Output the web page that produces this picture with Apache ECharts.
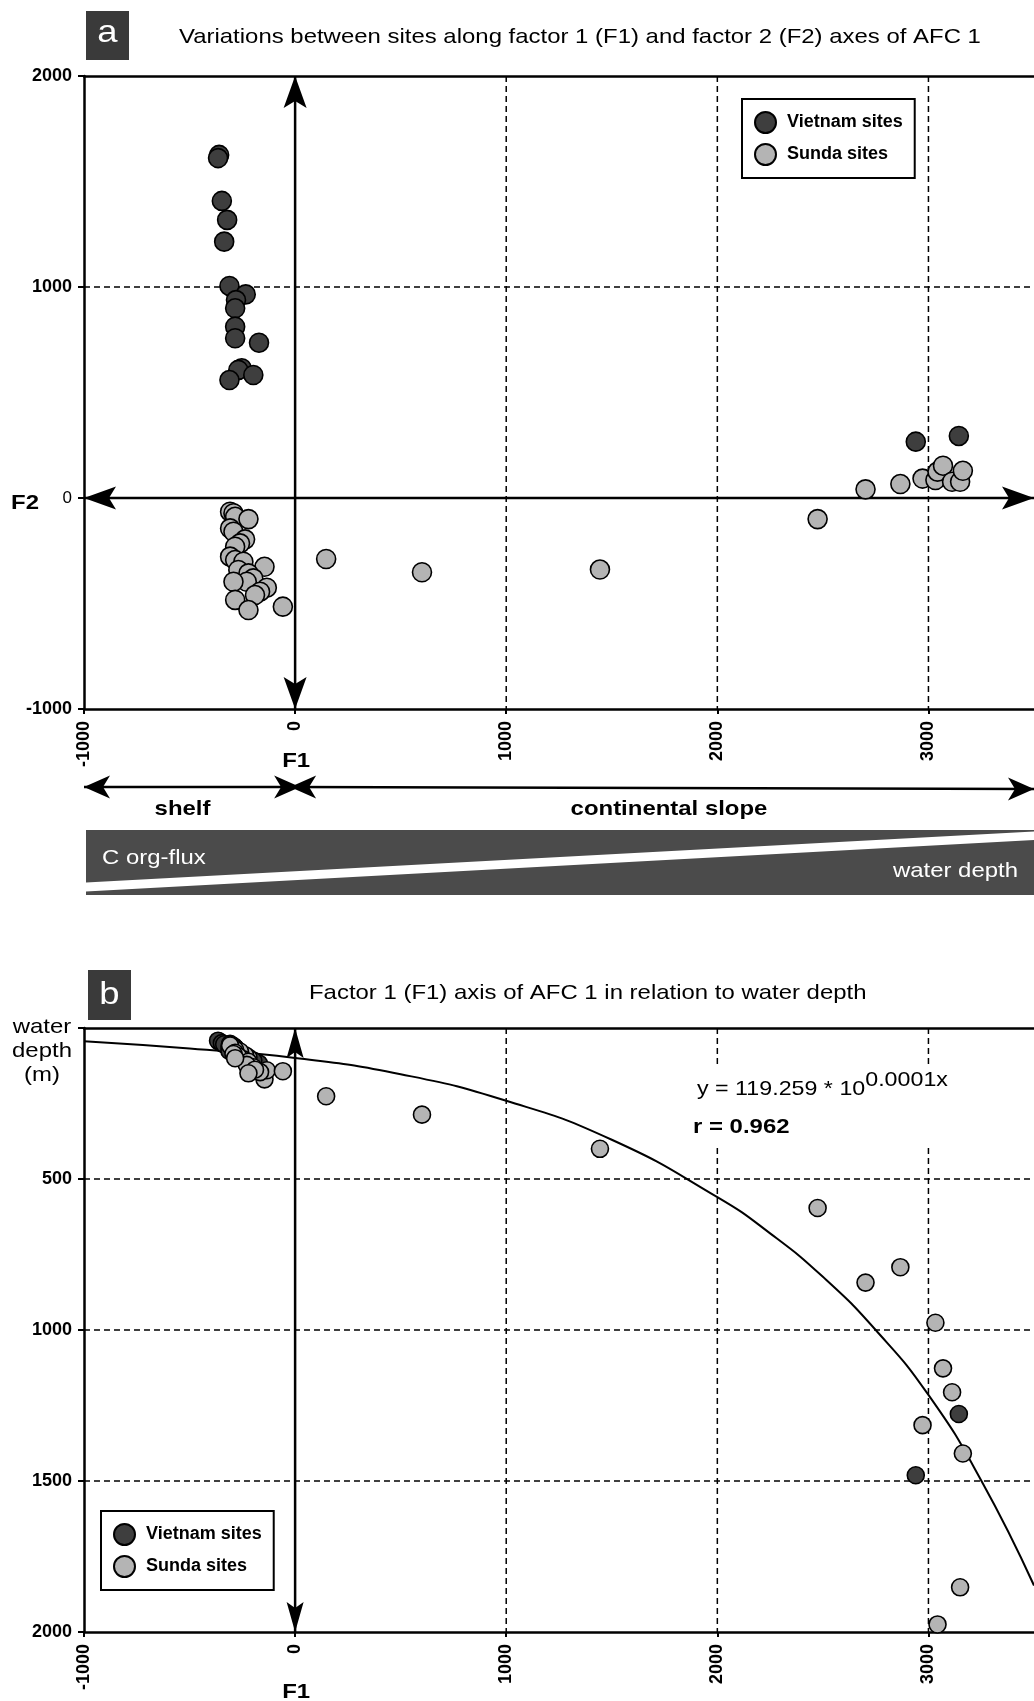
<!DOCTYPE html>
<html>
<head>
<meta charset="utf-8">
<script src="https://cdn.jsdelivr.net/npm/echarts@6/dist/echarts.min.js"></script>
<style>
  html, body { margin: 0; padding: 0; background: #fff; }
  #main { width: 1034px; height: 1701px; }
</style>
</head>
<body>
<div id="main"></div>
<script>
// AFC 1 site scores: factor 1 (F1), factor 2 (F2) and water depth (m) of each site
const vietnamF1    = [-360, -365, -347, -322, -336, -311, -234, -280, -284, -284, -284, -171, -253, -269, -198, -311, 2940, 3144];
const vietnamF2    = [1626, 1611, 1408, 1318, 1215, 1005, 965, 938, 899, 812, 757, 736, 615, 607, 583, 559, 267, 294];
const vietnamDepth = [45, 42, 50, 58, 54, 62, 96, 74, 70, 80, 66, 118, 88, 84, 108, 76, 1481, 1278];

const sundaF1    = [-308, -292, -284, -221, -308, -292, -237, -261, -284, -308, -284, -245, -145, -269, -221, -198, -229, -292, -134, -166, -190, -284, -221, -58, 147, 601, 1444, 2475, 2702, 2867, 2972, 3033, 3043, 3069, 3112, 3150, 3163];
const sundaF2    = [-65, -72, -89, -100, -144, -160, -196, -215, -231, -278, -294, -302, -326, -341, -357, -381, -397, -397, -425, -444, -460, -483, -531, -515, -289, -352, -339, -100, 41, 66, 92, 85, 125, 153, 77, 77, 129];
const sundaDepth = [52, 60, 66, 98, 56, 64, 90, 78, 72, 58, 82, 104, 170, 94, 112, 130, 122, 86, 140, 146, 138, 100, 150, 143, 226, 287, 400, 596, 843, 792, 1315, 976, 1975, 1127, 1206, 1852, 1409];

// Exponential regression of water depth on F1, sampled along the fitted curve
const fitF1    = [-1000, -500, 0, 500, 1000, 1500, 2000, 2250, 2500, 2750, 3000, 3250, 3500];
const fitDepth = [44, 68, 99, 153, 241, 370, 560, 680, 824, 1000, 1215, 1498, 1846];

// Axis extents and reference lines
const f1Range = [-1000, 3500];
const f2Range = [-1000, 2000];
const depthRange = [0, 2000];
const f1GridLines = [1000, 2000, 3000];
const f2GridLines = [1000];
const depthGridLines = [500, 1000, 1500];

const seriesNames = ['Vietnam sites', 'Sunda sites'];
const equationMain = 'y = 119.259 * 10';
const equationExp = '0.0001x';
const correlation = 'r = 0.962';

const FONT = '"Liberation Sans", Arial, Helvetica, sans-serif';
const INK = '#000';
const DARK = '#3e3e3e';
const LIGHT = '#b4b4b4';
const PANEL_TAG = '#3a3a3a';
const BAND = '#4b4b4b';
const TXT_SCALE = 1.14;

const pairs = (xs, ys) => xs.map((x, i) => [x, ys[i]]);

function headPoints(tip, from, L, W, notch) {
  const dx = tip[0] - from[0], dy = tip[1] - from[1];
  const len = Math.hypot(dx, dy) || 1;
  const ux = dx / len, uy = dy / len, nx = -uy, ny = ux;
  const bx = tip[0] - ux * L, by = tip[1] - uy * L;
  return [
    [tip[0], tip[1]],
    [bx + nx * W, by + ny * W],
    [tip[0] - ux * (L - notch), tip[1] - uy * (L - notch)],
    [bx - nx * W, by - ny * W]
  ];
}

function doubleArrow(a, b, L, W, notch, width) {
  return [
    { type: 'line', shape: { x1: a[0], y1: a[1], x2: b[0], y2: b[1] }, style: { stroke: INK, lineWidth: width } },
    { type: 'polygon', shape: { points: headPoints(a, b, L, W, notch) }, style: { fill: INK } },
    { type: 'polygon', shape: { points: headPoints(b, a, L, W, notch) }, style: { fill: INK } }
  ];
}

function arrowRenderer(L, W, notch) {
  return function (params, api) {
    const a = api.coord([api.value(0), api.value(1)]);
    const b = api.coord([api.value(2), api.value(3)]);
    return { type: 'group', children: doubleArrow(a, b, L, W, notch, 2.5) };
  };
}

function renderGridLine(params, api) {
  const cs = params.coordSys;
  const v = api.value(0);
  let shape;
  if (api.value(1) === 1) {
    const y = api.coord([0, v])[1];
    shape = { x1: cs.x, y1: y, x2: cs.x + cs.width, y2: y };
  } else {
    const x = api.coord([v, 0])[0];
    shape = { x1: x, y1: cs.y, x2: x, y2: cs.y + cs.height };
  }
  return { type: 'line', shape, style: { stroke: INK, lineWidth: 1.5, lineDash: [6, 4] } };
}

const axisLineStyle = { color: INK, width: 2.5 };

function f1Axis(gridIndex) {
  return {
    type: 'value', gridIndex, position: 'bottom',
    min: f1Range[0], max: f1Range[1], interval: 1000,
    axisLine: { show: true, onZero: false, lineStyle: axisLineStyle },
    axisTick: { show: true, length: 5, lineStyle: { color: INK, width: 2 } },
    axisLabel: {
      show: true, rotate: 90, margin: 12, color: INK, fontFamily: FONT, fontWeight: 'bold', fontSize: 18,
      showMaxLabel: false, formatter: v => String(v)
    },
    splitLine: { show: false }
  };
}

function frameTop(gridIndex) {
  return {
    type: 'value', gridIndex, position: 'top',
    min: f1Range[0], max: f1Range[1],
    axisLine: { show: true, onZero: false, lineStyle: axisLineStyle },
    axisTick: { show: false }, axisLabel: { show: false }, splitLine: { show: false }
  };
}

const tickBold = { fontFamily: FONT, fontWeight: 'bold', fontSize: 18, color: INK };

const legendBase = {
  data: seriesNames, orient: 'vertical',
  padding: [12, 12, 12, 12], itemGap: 9, itemWidth: 21, itemHeight: 21,
  backgroundColor: '#fff', borderColor: INK, borderWidth: 2, borderRadius: 0,
  selectedMode: false,
  textStyle: { fontFamily: FONT, fontWeight: 'bold', fontSize: 18, color: INK, padding: [0, 0, 0, 6] }
};

function sitesSeries(name, data, xi, yi, color, size) {
  return {
    type: 'scatter', name, xAxisIndex: xi, yAxisIndex: yi, data,
    symbol: 'circle', symbolSize: size,
    itemStyle: { color, borderColor: INK, borderWidth: 1.6, opacity: 1 },
    emphasis: { disabled: true }, z: 5
  };
}

const option = {
  animation: false,
  backgroundColor: '#fff',
  grid: [
    { left: 84, top: 76, width: 950, height: 633 },
    { left: 84, top: 1028, width: 950, height: 604 }
  ],
  xAxis: [f1Axis(0), f1Axis(1), frameTop(0), frameTop(1)],
  yAxis: [
    {
      type: 'value', gridIndex: 0, min: f2Range[0], max: f2Range[1], interval: 1000,
      axisLine: { show: true, onZero: false, lineStyle: axisLineStyle },
      axisTick: { show: true, length: 6, lineStyle: { color: INK, width: 2 } },
      axisLabel: {
        margin: 12,
        formatter: v => (v === 0 ? '{n|0}' : '{b|' + v + '}'),
        rich: { b: tickBold, n: { fontFamily: FONT, fontSize: 17, color: INK } }
      },
      splitLine: { show: false }
    },
    {
      type: 'value', gridIndex: 1, inverse: true, min: depthRange[0], max: depthRange[1], interval: 500,
      axisLine: { show: true, onZero: false, lineStyle: axisLineStyle },
      axisTick: { show: true, length: 6, lineStyle: { color: INK, width: 2 } },
      axisLabel: Object.assign({ margin: 12, formatter: v => (v === 0 ? '' : String(v)) }, tickBold),
      splitLine: { show: false }
    }
  ],
  legend: [
    Object.assign({ left: 742, top: 99 }, legendBase),
    Object.assign({ left: 101, top: 1511 }, legendBase)
  ],
  series: [
    {
      type: 'custom', name: 'grid-a', xAxisIndex: 0, yAxisIndex: 0, silent: true, z: 1,
      data: f1GridLines.map(v => [v, 0]).concat(f2GridLines.map(v => [v, 1])),
      renderItem: renderGridLine
    },
    {
      type: 'custom', name: 'grid-b', xAxisIndex: 1, yAxisIndex: 1, silent: true, z: 1,
      data: f1GridLines.map(v => [v, 0]).concat(depthGridLines.map(v => [v, 1])),
      renderItem: renderGridLine
    },
    {
      type: 'custom', name: 'axes-a', xAxisIndex: 0, yAxisIndex: 0, silent: true, z: 3, clip: false,
      encode: { x: [0, 2], y: [1, 3] },
      data: [[0, f2Range[0], 0, f2Range[1]], [f1Range[0], 0, f1Range[1], 0]],
      renderItem: arrowRenderer(32, 11.5, 7)
    },
    {
      type: 'custom', name: 'axes-b', xAxisIndex: 1, yAxisIndex: 1, silent: true, z: 3, clip: false,
      encode: { x: [0, 2], y: [1, 3] },
      data: [[0, depthRange[1], 0, depthRange[0]]],
      renderItem: arrowRenderer(30, 8.5, 6)
    },
    {
      type: 'line', name: 'fit', xAxisIndex: 1, yAxisIndex: 1, silent: true, z: 2,
      data: pairs(fitF1, fitDepth), smooth: 0.5,
      symbol: 'none', showSymbol: false, lineStyle: { color: INK, width: 2 }
    },
    sitesSeries(seriesNames[0], pairs(vietnamF1, vietnamF2), 0, 0, DARK, 19),
    sitesSeries(seriesNames[1], pairs(sundaF1, sundaF2), 0, 0, LIGHT, 19),
    sitesSeries(seriesNames[0], pairs(vietnamF1, vietnamDepth), 1, 1, DARK, 17),
    sitesSeries(seriesNames[1], pairs(sundaF1, sundaDepth), 1, 1, LIGHT, 17)
  ]
};

const chart = echarts.init(document.getElementById('main'), null, { renderer: 'canvas' });
chart.setOption(option);

// Annotations placed from the F1 scale
const xPix = v => chart.convertToPixel({ xAxisIndex: 0 }, v);
const xL = xPix(f1Range[0]), x0 = xPix(0), xR = xPix(f1Range[1]);

function text(str, x, y, opts) {
  const o = Object.assign({ size: 21, weight: 'normal', align: 'left', fill: INK, scale: TXT_SCALE, lineHeight: null }, opts);
  const style = {
    text: str, fill: o.fill, fontFamily: FONT, fontSize: o.size, fontWeight: o.weight,
    align: o.align, verticalAlign: 'middle', textAlign: o.align, textVerticalAlign: 'middle'
  };
  if (o.lineHeight) style.lineHeight = o.lineHeight;
  return { type: 'text', x, y, scaleX: o.scale, z: 20, silent: true, style };
}

const EQ_SIZE = 20.4;
const ctx = document.createElement('canvas').getContext('2d');
ctx.font = EQ_SIZE + 'px ' + FONT;
const eqMainWidth = ctx.measureText(equationMain).width * TXT_SCALE;

const bandTop = 830, bandBottom = 895;
const elements = [
  // panel tags
  { type: 'rect', shape: { x: 86, y: 11, width: 43, height: 49 }, style: { fill: PANEL_TAG }, z: 19 },
  text('a', 107.5, 33, { size: 32, align: 'center', fill: '#fff' }),
  { type: 'rect', shape: { x: 88, y: 970, width: 43, height: 50 }, style: { fill: PANEL_TAG }, z: 19 },
  text('b', 109.5, 995, { size: 32, align: 'center', fill: '#fff' }),
  // titles
  text('Variations between sites along factor 1 (F1) and factor 2 (F2) axes of AFC 1', 179, 37),
  text('Factor 1 (F1) axis of AFC 1 in relation to water depth', 309, 993),
  // axis names
  text('F2', 25, 503, { weight: 'bold', align: 'center' }),
  text('F1', x0 + 1, 761, { weight: 'bold', align: 'center' }),
  text('F1', x0 + 1, 1692, { weight: 'bold', align: 'center' }),
  text('water\ndepth\n(m)', 42, 1051, { align: 'center', lineHeight: 24 }),
  // shelf / continental slope arrows
  { type: 'group', z: 10, silent: true, children: doubleArrow([xL, 787], [x0 + 5, 787], 26, 11.5, 7, 2.5) },
  { type: 'group', z: 10, silent: true, children: doubleArrow([x0 - 5, 787], [xR, 789], 26, 11.5, 7, 2.5) },
  text('shelf', (xL + x0) / 2 - 7, 809, { weight: 'bold', align: 'center' }),
  text('continental slope', 669, 809, { weight: 'bold', align: 'center' }),
  // C org-flux / water depth band
  { type: 'polygon', z: 10, silent: true, shape: { points: [[xL + 2, bandTop], [xR, bandTop], [xR, bandTop + 1.5], [xL + 2, 882.5]] }, style: { fill: BAND } },
  { type: 'polygon', z: 10, silent: true, shape: { points: [[xL + 2, 891.5], [xR, 840], [xR, bandBottom], [xL + 2, bandBottom]] }, style: { fill: BAND } },
  text('C org-flux', 102, 858, { fill: '#fff' }),
  text('water depth', 1018, 871, { fill: '#fff', align: 'right' }),
  // regression equation
  { type: 'rect', z: 15, silent: true, shape: { x: 686, y: 1064, width: 272, height: 80 }, style: { fill: '#fff' } },
  text(equationMain, 697, 1089, { size: EQ_SIZE }),
  text(equationExp, 697 + eqMainWidth, 1080, { size: EQ_SIZE }),
  text(correlation, 693, 1127, { weight: 'bold' })
];

chart.setOption({ graphic: { elements } });
</script>
</body>
</html>
